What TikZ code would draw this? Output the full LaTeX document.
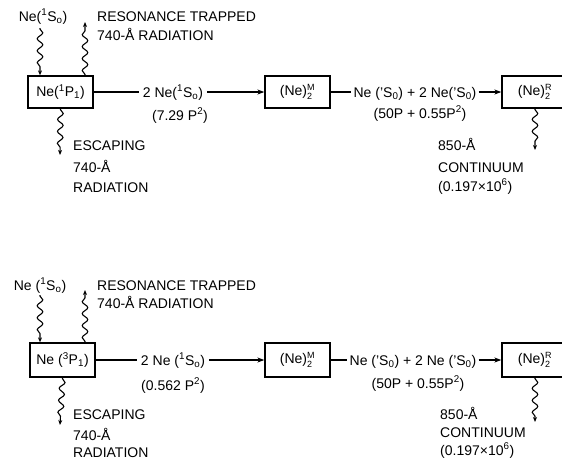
\documentclass[tikz,border=0pt]{standalone}
\usepackage{fontspec}
\setmainfont{Liberation Sans}
\usetikzlibrary{decorations.pathmorphing,arrows.meta}
\newcommand\mysupsub[2]{${}^{\mbox{\fontsize{9}{10}\selectfont #1}}_{\mbox{\fontsize{9}{10}\selectfont #2}}$}
\begin{document}
\begin{tikzpicture}[x=1pt,y=-1pt,
 every node/.style={font=\fontsize{14}{16}\selectfont},
 lbl/.style={inner xsep=4pt, inner ysep=0pt, text height=10pt, text depth=0pt},
 box/.style={draw, line width=1.3pt, minimum width=65pt, minimum height=32pt, inner sep=0pt},
 conn/.style={line width=1.1pt},
 tip/.style={-{Stealth[length=7pt,width=5pt]}},
 wavy/.style={line width=1.1pt, decorate, decoration={snake, segment length=12pt, amplitude=2.8pt, pre length=1pt, post length=4pt}, -{Stealth[length=5pt,width=4pt]}}]
\useasboundingbox (0,0) rectangle (562,459);
\clip (0,0) rectangle (562,459);

% ---------------- top diagram ----------------
\node[box] (pA) at (60.5,92) {Ne(\textsuperscript{1}P\textsubscript{1})};
\node[box] (mA) at (297.5,92) {(Ne)\mysupsub{M}{2}};
\node[box, minimum width=66pt] (rA) at (535,92) {(Ne)\mysupsub{R}{2}};

\node[lbl] (gA) at (43,16) {Ne(\textsuperscript{1}S\textsubscript{o})};
\node[lbl, anchor=west, inner xsep=0pt] (resA1) at (97,16) {RESONANCE TRAPPED};
\node[lbl, anchor=west, inner xsep=0pt] (resA2) at (97,35) {740-Å RADIATION};
\node[lbl, anchor=west, inner xsep=0pt] (escA1) at (73,145) {ESCAPING};
\node[lbl, anchor=west, inner xsep=0pt] (escA2) at (73,167) {740-Å};
\node[lbl, anchor=west, inner xsep=0pt] (escA3) at (73,187) {RADIATION};

\node[lbl] (tA1) at (173,92) {2 Ne(\textsuperscript{1}S\textsubscript{o})};
\node[lbl] (kA1) at (180,115) {(7.29 P\textsuperscript{2})};
\node[lbl, inner xsep=2pt] (tA2) at (415,92) {Ne ('S\textsubscript{0}) + 2 Ne('S\textsubscript{0})};
\node[lbl] (kA2) at (420,113) {(50P + 0.55P\textsuperscript{2})};

\node[lbl, anchor=west, inner xsep=0pt] (conA1) at (438,145) {850-Å};
\node[lbl, anchor=west, inner xsep=0pt] (conA2) at (438,167) {CONTINUUM};
\node[lbl, anchor=west, inner xsep=0pt] (conA3) at (438,186) {(0.197×10\textsuperscript{6})};

\coordinate (gAe) at (40,28);
\coordinate (upA) at (85,22);
\coordinate (dnA) at (60,155);
\coordinate (cnA) at (535,150);

\draw[wavy] (gAe) -- (gAe |- pA.north);
\draw[wavy] (upA |- pA.north) -- (upA);
\draw[wavy] (pA.south) -- (dnA);
\draw[wavy] (rA.south) -- (cnA);

\draw[conn] (pA.east) -- (tA1.west);
\draw[conn,tip] (tA1.east) -- (mA.west);
\draw[conn] (mA.east) -- (tA2.west);
\draw[conn,tip] (tA2.east) -- (rA.west);

% ---------------- bottom diagram ----------------
\node[box, minimum height=34pt] (pB) at (62.5,360) {Ne (\textsuperscript{3}P\textsubscript{1})};
\node[box, minimum height=34pt] (mB) at (297.5,360) {(Ne)\mysupsub{M}{2}};
\node[box, minimum width=66pt, minimum height=34pt] (rB) at (535,360) {(Ne)\mysupsub{R}{2}};

\node[lbl] (gB) at (40,285) {Ne (\textsuperscript{1}S\textsubscript{o})};
\node[lbl, anchor=west, inner xsep=0pt] (resB1) at (97,285) {RESONANCE TRAPPED};
\node[lbl, anchor=west, inner xsep=0pt] (resB2) at (97,303) {740-Å RADIATION};
\node[lbl, anchor=west, inner xsep=0pt] (escB1) at (73,414) {ESCAPING};
\node[lbl, anchor=west, inner xsep=0pt] (escB2) at (73,435) {740-Å};
\node[lbl, anchor=west, inner xsep=0pt] (escB3) at (73,452) {RADIATION};

\node[lbl] (tB1) at (173,360) {2 Ne (\textsuperscript{1}S\textsubscript{o})};
\node[lbl] (kB1) at (173,385) {(0.562 P\textsuperscript{2})};
\node[lbl, inner xsep=2pt] (tB2) at (413,360) {Ne ('S\textsubscript{0}) + 2 Ne ('S\textsubscript{0})};
\node[lbl] (kB2) at (418,383) {(50P + 0.55P\textsuperscript{2})};

\node[lbl, anchor=west, inner xsep=0pt] (conB1) at (440,414) {850-Å};
\node[lbl, anchor=west, inner xsep=0pt] (conB2) at (440,432) {CONTINUUM};
\node[lbl, anchor=west, inner xsep=0pt] (conB3) at (440,450) {(0.197×10\textsuperscript{6})};

\coordinate (gBe) at (40,295);
\coordinate (upB) at (85,290);
\coordinate (dnB) at (60,425);
\coordinate (cnB) at (535,422);

\draw[wavy] (gBe) -- (gBe |- pB.north);
\draw[wavy] (upB |- pB.north) -- (upB);
\draw[wavy] (pB.south) -- (dnB);
\draw[wavy] (rB.south) -- (cnB);

\draw[conn] (pB.east) -- (tB1.west);
\draw[conn,tip] (tB1.east) -- (mB.west);
\draw[conn] (mB.east) -- (tB2.west);
\draw[conn,tip] (tB2.east) -- (rB.west);
\end{tikzpicture}
\end{document}
